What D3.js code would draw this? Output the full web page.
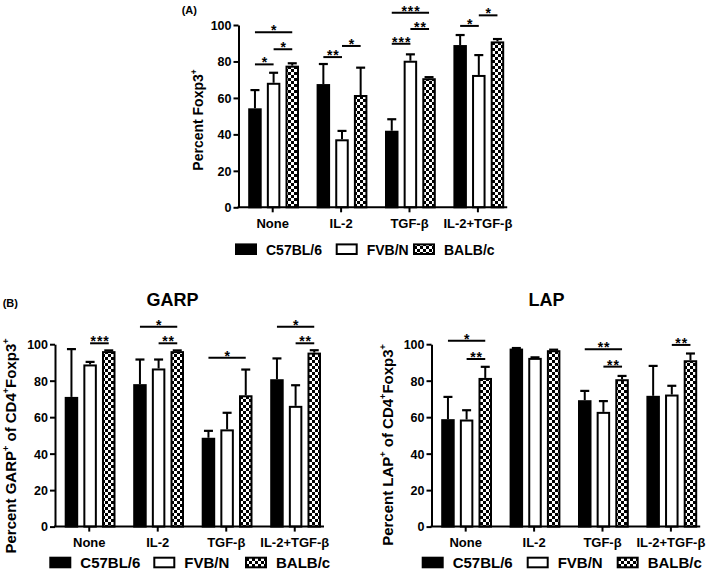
<!DOCTYPE html>
<html><head><meta charset="utf-8">
<script src="https://cdn.jsdelivr.net/npm/d3@7"></script>
<style>
body{margin:0;background:#fff;}
svg text{font-family:"Liberation Sans",Arial,sans-serif;font-weight:bold;fill:#000;}
</style></head>
<body><svg id="c" width="709" height="572"></svg>
<script>
// ---------- data ----------
const categories = ["None","IL-2","TGF-β","IL-2+TGF-β"];
const strains = ["C57BL/6","FVB/N","BALB/c"];
const yTicks = [0,20,40,60,80,100];

// Panel A: Percent Foxp3+
const foxpC57  = [54.3, 67.6, 42.0, 89.0];
const foxpFVB  = [68.3, 37.3, 80.4, 72.6];
const foxpBALB = [77.7, 61.6, 70.8, 91.0];
const foxpErrC57  = [10.0, 11.0, 6.3, 5.5];
const foxpErrFVB  = [5.5, 4.6, 3.5, 10.9];
const foxpErrBALB = [1.3, 15.0, 0.6, 1.3];
// significance: [category, strainFrom, strainTo, label, level]
const foxpSig = [
  [0,0,1,"*",78.4],[0,1,2,"*",86.7],[0,0,2,"*",96.0],
  [1,0,1,"**",82.4],[1,1,2,"*",88.5],
  [2,0,1,"***",89.7],[2,1,2,"**",97.8],[2,0,2,"***",106.7],
  [3,0,1,"*",99.5],[3,1,2,"*",105.3]
];

// Panel B left: GARP
const garpC57  = [71.1, 78.1, 48.7, 80.8];
const garpFVB  = [88.9, 86.7, 53.3, 66.2];
const garpBALB = [96.2, 96.2, 72.0, 95.4];
const garpErrC57  = [26.2, 13.5, 3.8, 11.4];
const garpErrFVB  = [1.4, 4.9, 9.1, 11.3];
const garpErrBALB = [0.4, 0.4, 14.1, 1.3];
const garpSig = [
  [0,1,2,"***",100.5],
  [1,0,2,"*",109.6],[1,1,2,"**",100.5],
  [2,0,2,"*",92.6],
  [3,0,2,"*",109.6],[3,1,2,"**",100.5]
];

// Panel B right: LAP
const lapC57  = [58.9, 97.6, 69.3, 71.7];
const lapFVB  = [58.7, 92.5, 62.9, 72.4];
const lapBALB = [81.5, 96.7, 80.8, 91.2];
const lapErrC57  = [12.2, 0.3, 5.1, 16.4];
const lapErrFVB  = [5.1, 0.3, 5.9, 4.8];
const lapErrBALB = [6.1, 0.3, 1.8, 3.7];
const lapSig = [
  [0,0,2,"*",101.9],[0,1,2,"**",91.9],
  [2,0,2,"**",97.2],[2,1,2,"**",87.7],
  [3,1,2,"**",99.6]
];

// ---------- drawing ----------
const svg = d3.select("#c");
const defs = svg.append("defs");
const pat = defs.append("pattern").attr("id","checker").attr("patternUnits","userSpaceOnUse")
  .attr("width",6).attr("height",6);
pat.append("rect").attr("width",6).attr("height",6).attr("fill","#fff");
pat.append("rect").attr("width",3).attr("height",3).attr("fill","#000");
pat.append("rect").attr("x",3).attr("y",3).attr("width",3).attr("height",3).attr("fill","#000");
const fills = ["#000","#fff","url(#checker)"];

function panel(cfg){
  const g = svg.append("g");
  const x = d3.scaleBand().domain(categories).range([cfg.x0, cfg.x0 + 4*cfg.step]).paddingInner(0).paddingOuter(0);
  const xs = d3.scaleBand().domain(strains).range([9.7, 60.5]).paddingInner(0.276).paddingOuter(0);
  const y = d3.scaleLinear().domain([0,100]).range([cfg.y0, cfg.y100]);

  const rows = [];
  categories.forEach((c,i)=>strains.forEach((s,j)=>rows.push({c,s,j,v:cfg.means[j][i],e:cfg.errs[j][i]})));

  // bars
  g.selectAll("rect.bar").data(rows).join("rect").attr("class","bar")
    .attr("x",d=>x(d.c)+xs(d.s)+1).attr("width",xs.bandwidth()-2)
    .attr("y",d=>y(d.v)+1).attr("height",d=>y(0)-y(d.v)-1)
    .attr("fill",d=>fills[d.j]).attr("stroke","#000").attr("stroke-width",2);
  // error bars
  const cx = d=>x(d.c)+xs(d.s)+xs.bandwidth()/2;
  g.selectAll("line.err").data(rows).join("line").attr("class","err")
    .attr("x1",cx).attr("x2",cx).attr("y1",d=>y(d.v)).attr("y2",d=>y(d.v+d.e))
    .attr("stroke","#000").attr("stroke-width",2);
  g.selectAll("line.cap").data(rows).join("line").attr("class","cap")
    .attr("x1",d=>cx(d)-4.5).attr("x2",d=>cx(d)+4.5).attr("y1",d=>y(d.v+d.e)).attr("y2",d=>y(d.v+d.e))
    .attr("stroke","#000").attr("stroke-width",2.2);

  // significance
  const sc = (ci,sj)=>x(categories[ci])+xs(strains[sj])+xs.bandwidth()/2;
  g.selectAll("line.sig").data(cfg.sig).join("line").attr("class","sig")
    .attr("x1",d=>sc(d[0],d[1])).attr("x2",d=>sc(d[0],d[2]))
    .attr("y1",d=>y(d[4])).attr("y2",d=>y(d[4]))
    .attr("stroke","#000").attr("stroke-width",2);
  g.selectAll("text.sig").data(cfg.sig).join("text").attr("class","sig")
    .attr("x",d=>(sc(d[0],d[1])+sc(d[0],d[2]))/2+0.7).attr("y",d=>y(d[4])+3)
    .attr("text-anchor","middle").attr("font-size",14).attr("letter-spacing",1)
    .text(d=>d[3]);

  // y axis
  const ya = g.append("g").attr("transform",`translate(${cfg.x0},0)`)
    .call(d3.axisLeft(y).tickValues(yTicks).tickSize(5).tickSizeOuter(0).tickPadding(2));
  ya.selectAll("path,line").attr("stroke","#000").attr("stroke-width",2);
  ya.selectAll("text").attr("font-size",cfg.tickFs).attr("font-family","Liberation Sans, Arial, sans-serif").attr("font-weight","bold").attr("dy","0.35em");

  // x axis
  const xa = g.append("g").attr("transform",`translate(0,${cfg.y0})`)
    .call(d3.axisBottom(x).tickSize(5).tickSizeOuter(0).tickPadding(6));
  xa.select("path.domain").remove();
  xa.selectAll("line").attr("stroke","#000").attr("stroke-width",2);
  xa.selectAll("text").attr("font-size",13).attr("font-family","Liberation Sans, Arial, sans-serif").attr("font-weight","bold");
  const xEnd = x(categories[3]) + xs(strains[2]) + xs.bandwidth() + 3;
  g.append("line").attr("x1",cfg.x0-1).attr("x2",xEnd).attr("y1",cfg.y0).attr("y2",cfg.y0)
    .attr("stroke","#000").attr("stroke-width",2);

  // y label
  const yl = g.append("text").attr("transform",`translate(${cfg.ylx},${cfg.yly}) rotate(-90)`)
    .attr("text-anchor","middle").attr("font-size",cfg.ylFs);
  cfg.ylParts.forEach(p=>{
    if(p.sup) yl.append("tspan").attr("font-size",cfg.ylFs*0.6).attr("dy",-cfg.ylFs*0.42).text(p.t);
    else yl.append("tspan").attr("dy",p.after? cfg.ylFs*0.42:0).text(p.t);
  });

  // legend
  strains.forEach((s,j)=>{
    const lx = cfg.legX[j];
    g.append("rect").attr("x",lx+1).attr("y",cfg.legY-4.8).attr("width",20).attr("height",9.6)
      .attr("fill",fills[j]).attr("stroke","#000").attr("stroke-width",2);
    g.append("text").attr("x",lx+31).attr("y",cfg.legY+5.4).attr("font-size",cfg.legFs).text(s);
  });

  if(cfg.title) g.append("text").attr("x",cfg.titleX).attr("y",305.5).attr("text-anchor","middle")
    .attr("font-size",18).text(cfg.title);
}

panel({x0:238.5, step:68.4, y0:207.3, y100:25, tickFs:12.5,
  means:[foxpC57,foxpFVB,foxpBALB], errs:[foxpErrC57,foxpErrFVB,foxpErrBALB], sig:foxpSig,
  ylx:203.3, yly:120, ylFs:14,
  ylParts:[{t:"Percent Foxp3"},{t:"+",sup:true}],
  legX:[235,335.7,413], legY:249.2, legFs:14});

panel({x0:55, step:68.5, y0:526.6, y100:344.2, tickFs:12.5,
  means:[garpC57,garpFVB,garpBALB], errs:[garpErrC57,garpErrFVB,garpErrBALB], sig:garpSig,
  ylx:15.5, yly:446, ylFs:15,
  ylParts:[{t:"Percent GARP"},{t:"+",sup:true},{t:" of CD4",after:true},{t:"+",sup:true},{t:"Foxp3",after:true},{t:"+",sup:true}],
  legX:[49.3,153.3,245], legY:562.5, legFs:15, title:"GARP", titleX:172.5});

panel({x0:431.5, step:68.4, y0:526.6, y100:344.2, tickFs:12.5,
  means:[lapC57,lapFVB,lapBALB], errs:[lapErrC57,lapErrFVB,lapErrBALB], sig:lapSig,
  ylx:392.5, yly:445, ylFs:15,
  ylParts:[{t:"Percent LAP"},{t:"+",sup:true},{t:" of CD4",after:true},{t:"+",sup:true},{t:"Foxp3",after:true},{t:"+",sup:true}],
  legX:[421.7,526.7,616.7], legY:562.5, legFs:15, title:"LAP", titleX:546.5});

svg.append("text").attr("x",181.7).attr("y",14).attr("font-size",11).text("(A)");
svg.append("text").attr("x",2.7).attr("y",307).attr("font-size",11).text("(B)");
</script></body></html>
